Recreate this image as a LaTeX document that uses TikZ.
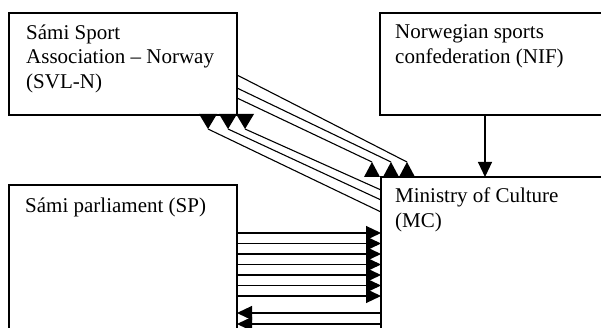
\documentclass[tikz,border=0pt]{standalone}
\usepackage{fontspec}
\setmainfont{Liberation Serif}
\usetikzlibrary{arrows.meta}

\begin{document}
\begin{tikzpicture}[x = 1pt, y = -1pt, box/.style = {draw, line width = 1.2pt, inner sep = 0pt, outer sep = 0pt, anchor = north west}, txt/.style = {anchor = north west, align = left, inner sep = 0pt, font = \fontsize{21}{24.5}\selectfont, execute at begin node = \strut}, conn/.style = {line width = 1.1pt}, >={Triangle[width = 14pt, length = 15pt]}]
	\clip (0,0) rectangle (601,328);
	\node[box, minimum width = 228pt, minimum height = 102pt] (svl) at (9,13) {};
	\node[box, minimum width = 240pt, minimum height = 102pt] (nif) at (380,13) {};
	\node[box, minimum width = 240pt, minimum height = 180pt] (mc) at (381,177) {};
	\node[box, minimum width = 228pt, minimum height = 170pt] (sp) at (9,185) {};
	% texts, top of strut = baseline - 17.15
	\node[txt] (svl-t) at (26,24.5) {Sámi Sport\\Association – Norway\\(SVL-N)};
	\node[txt] (nif-t) at (395,24.8) {Norwegian sports\\confederation (NIF)};
	\node[txt] (mc-t) at (395,187.8) {Ministry of Culture\\(MC)};
	\node[txt] (sp-t) at (25,194.8) {Sámi parliament (SP)};
	% NIF to MC
	\draw[conn, ->] (nif.south -| 485,0) -- (mc.north -| 485,0);
	% SVL-N to MC, tips on top of MC
	\coordinate (up1) at (407,162);
	\coordinate (up2) at (391,162);
	\coordinate (up3) at (372,162);
	\draw[conn] (svl.east |- 0,75) -- (up1);
	\draw[conn] (svl.east |- 0,88) -- (up2);
	\draw[conn] (svl.east |- 0,98) -- (up3);
	\foreach \p in {up1, up2, up3}
		\fill (\p) ++(-8,15) -- ++(16,0) -- ++(-8,-15) -- cycle;
	% MC to SVL-N, tips under SVL-N
	\coordinate (dn1) at (245,129);
	\coordinate (dn2) at (228,129);
	\coordinate (dn3) at (208,129);
	\draw[conn] (mc.west |- 0,190) -- (dn1);
	\draw[conn] (mc.west |- 0,200) -- (dn2);
	\draw[conn] (mc.west |- 0,212) -- (dn3);
	\foreach \p in {dn1, dn2, dn3}
		\fill (\p) ++(-9,-15) -- ++(18,0) -- ++(-9,15) -- cycle;
	% SP to MC and back
	\foreach \y in {233,243.5,254,264.5,275,285.5,296}
		\draw[conn, ->] (sp.east |- 0,\y) -- (mc.west |- 0,\y);
	\foreach \y in {313,324}
		\draw[conn, ->] (mc.west |- 0,\y) -- (sp.east |- 0,\y);
\end{tikzpicture}
\end{document}
